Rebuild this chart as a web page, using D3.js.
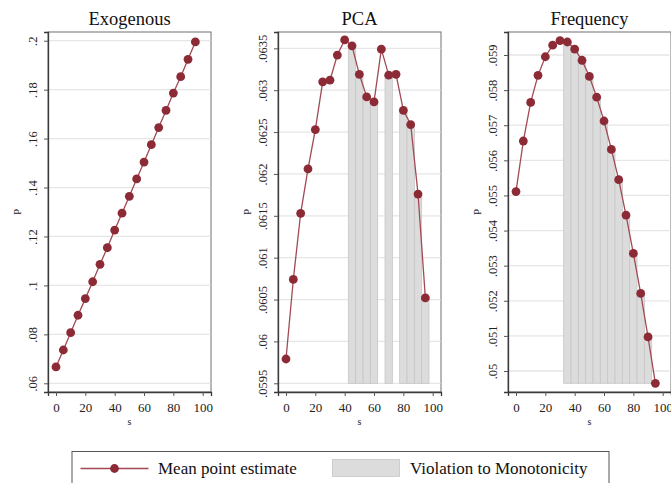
<!DOCTYPE html>
<html>
<head>
<meta charset="utf-8">
<script src="https://cdn.jsdelivr.net/npm/d3@7"></script>
<style>
  html, body { margin: 0; padding: 0; background: #fff; }
  svg { display: block; font-family: "Liberation Serif", "Times New Roman", serif; }
</style>
</head>
<body>
<svg id="chart" width="671" height="483"></svg>
<script>
// Share of the threshold s (percent)
const sValues = [0, 5, 10, 15, 20, 25, 30, 35, 40, 45, 50, 55, 60, 65, 70, 75, 80, 85, 90, 95];

// Mean point estimates of P for each weighting scheme
const exogenousP = [0.0667, 0.0736, 0.0807, 0.0878, 0.0946, 0.1015, 0.1086, 0.1154, 0.1226, 0.1295,
                    0.1364, 0.1435, 0.1504, 0.1575, 0.1645, 0.1715, 0.1786, 0.1853, 0.1924, 0.1995];
const pcaP = [0.05979, 0.06074, 0.06153, 0.06206, 0.06253, 0.06310, 0.06312, 0.06342, 0.06360, 0.06353,
              0.06319, 0.06292, 0.06286, 0.06349, 0.06318, 0.06319, 0.06276, 0.06259, 0.06176, 0.06052];
const frequencyP = [0.05511, 0.05655, 0.05765, 0.05842, 0.05895, 0.05928, 0.05941, 0.05937, 0.05917, 0.05885,
                    0.05839, 0.05780, 0.05712, 0.05631, 0.05545, 0.05444, 0.05335, 0.05221, 0.05097, 0.04965];

// Values of s where the estimate falls below the previous one
const exogenousViolations = [];
const pcaViolations = [45, 50, 55, 60, 70, 80, 85, 90, 95];
const frequencyViolations = [35, 40, 45, 50, 55, 60, 65, 70, 75, 80, 85, 90, 95];

// Lower edge of the shaded violation bars
const pcaBase = 0.0595;
const frequencyBase = 0.04965;

// Axis ticks
const xTicks = [0, 20, 40, 60, 80, 100];
const exogenousTicks = [0.06, 0.08, 0.1, 0.12, 0.14, 0.16, 0.18, 0.2];
const pcaTicks = [0.0595, 0.06, 0.0605, 0.061, 0.0615, 0.062, 0.0625, 0.063, 0.0635];
const frequencyTicks = [0.05, 0.051, 0.052, 0.053, 0.054, 0.055, 0.056, 0.057, 0.058, 0.059];

const panelTitles = ["Exogenous", "PCA", "Frequency"];
const legendLabels = ["Mean point estimate", "Violation to Monotonicity"];

const LINE = "#a24a53";
const MARKER = "#8c2b36";
const BAR_FILL = "#dcdcdc";
const BAR_EDGE = "#c6c6c6";
const GRID = "#e6e6e6";

const panels = [
  { title: panelTitles[0], values: exogenousP, ticks: exogenousTicks, violations: exogenousViolations,
    base: null, left: 48, yDomain: [0.05644, 0.20356] },
  { title: panelTitles[1], values: pcaP, ticks: pcaTicks, violations: pcaViolations,
    base: pcaBase, left: 278, yDomain: [0.059396, 0.063695] },
  { title: panelTitles[2], values: frequencyP, ticks: frequencyTicks, violations: frequencyViolations,
    base: frequencyBase, left: 508, yDomain: [0.049402, 0.059655] }
];

const svg = d3.select("#chart");
svg.append("rect").attr("width", 671).attr("height", 483).attr("fill", "#fff");

const plotTop = 32, plotBottom = 392, plotW = 163;
const fmt = d => String(d).replace(/^0/, "");

panels.forEach(p => {
  const x = d3.scaleLinear().domain([-5.45, 105.66]).range([p.left, p.left + plotW]);
  const y = d3.scaleLinear().domain(p.yDomain).range([plotBottom, plotTop]);
  const g = svg.append("g");

  // plot region
  g.append("rect")
    .attr("x", p.left).attr("y", plotTop).attr("width", plotW).attr("height", plotBottom - plotTop)
    .attr("fill", "#fff").attr("stroke", "#707070").attr("stroke-width", 1);

  // horizontal grid
  g.append("g").selectAll("line").data(p.ticks).join("line")
    .attr("x1", p.left + 0.5).attr("x2", p.left + plotW - 0.5)
    .attr("y1", d => y(d)).attr("y2", d => y(d))
    .attr("stroke", GRID).attr("stroke-width", 1.3);

  // violation bars
  const bars = p.violations.map(s => ({ s, v: p.values[sValues.indexOf(s)] }));
  g.append("g").selectAll("rect").data(bars).join("rect")
    .attr("x", d => x(d.s - 2.5))
    .attr("width", d => x(d.s + 2.5) - x(d.s - 2.5))
    .attr("y", d => y(d.v))
    .attr("height", d => Math.max(0, y(p.base) - y(d.v)))
    .attr("fill", BAR_FILL).attr("stroke", BAR_EDGE).attr("stroke-width", 0.8);

  // line and markers
  const pts = sValues.map((s, i) => ({ s, v: p.values[i] }));
  g.append("path").datum(pts)
    .attr("fill", "none").attr("stroke", LINE).attr("stroke-width", 1.3)
    .attr("d", d3.line().x(d => x(d.s)).y(d => y(d.v)));
  g.append("g").selectAll("circle").data(pts).join("circle")
    .attr("cx", d => x(d.s)).attr("cy", d => y(d.v)).attr("r", 4.4)
    .attr("fill", MARKER);

  // y axis
  const ya = g.append("g").attr("transform", `translate(${p.left},0)`)
    .call(d3.axisLeft(y).tickValues(p.ticks).tickFormat(fmt).tickSize(4));
  ya.select(".domain").attr("stroke", "#3a3a3a").attr("stroke-width", 1.3);
  ya.selectAll(".tick line").attr("stroke", "#555");
  ya.selectAll(".tick text")
    .attr("x", null).attr("dy", null)
    .attr("text-anchor", "middle")
    .attr("transform", "translate(-11.5,0) rotate(-90)")
    .attr("font-family", "Liberation Serif").attr("font-size", 12.5).attr("fill", "#222");

  // x axis
  const xa = g.append("g").attr("transform", `translate(0,${plotBottom})`)
    .call(d3.axisBottom(x).tickValues(xTicks).tickSize(4));
  xa.select(".domain").attr("stroke", "#3a3a3a").attr("stroke-width", 1.3);
  xa.selectAll(".tick line").attr("stroke", "#555");
  xa.selectAll(".tick text")
    .attr("y", 20).attr("dy", null)
    .attr("font-family", "Liberation Serif").attr("font-size", 13).attr("fill", "#222");

  // axis titles
  g.append("text")
    .attr("x", p.left + plotW / 2).attr("y", 424.5)
    .attr("text-anchor", "middle").attr("font-size", 10).attr("fill", "#222")
    .text("s");
  g.append("text")
    .attr("transform", `translate(${p.left - 27},${(plotTop + plotBottom) / 2}) rotate(-90)`)
    .attr("text-anchor", "middle").attr("font-size", 11).attr("fill", "#222")
    .text("P");

  // panel title
  g.append("text")
    .attr("x", p.left + plotW / 2).attr("y", 24.5)
    .attr("text-anchor", "middle").attr("font-size", 18.5).attr("fill", "#111")
    .text(p.title);
});

// legend
const lg = svg.append("g");
lg.append("rect")
  .attr("x", 72).attr("y", 451.5).attr("width", 537).attr("height", 45)
  .attr("fill", "#fff").attr("stroke", "#555").attr("stroke-width", 1);
lg.append("line")
  .attr("x1", 80.5).attr("x2", 148.5).attr("y1", 468.5).attr("y2", 468.5)
  .attr("stroke", LINE).attr("stroke-width", 1.5);
lg.append("circle").attr("cx", 114.5).attr("cy", 468.5).attr("r", 4.4).attr("fill", MARKER);
lg.append("text").attr("x", 158).attr("y", 473.5)
  .attr("font-size", 17).attr("fill", "#111").text(legendLabels[0]);
lg.append("rect")
  .attr("x", 332.5).attr("y", 459.5).attr("width", 67).attr("height", 17)
  .attr("fill", BAR_FILL).attr("stroke", BAR_EDGE).attr("stroke-width", 0.8);
lg.append("text").attr("x", 410).attr("y", 473.5)
  .attr("font-size", 17).attr("fill", "#111").text(legendLabels[1]);
</script>
</body>
</html>
